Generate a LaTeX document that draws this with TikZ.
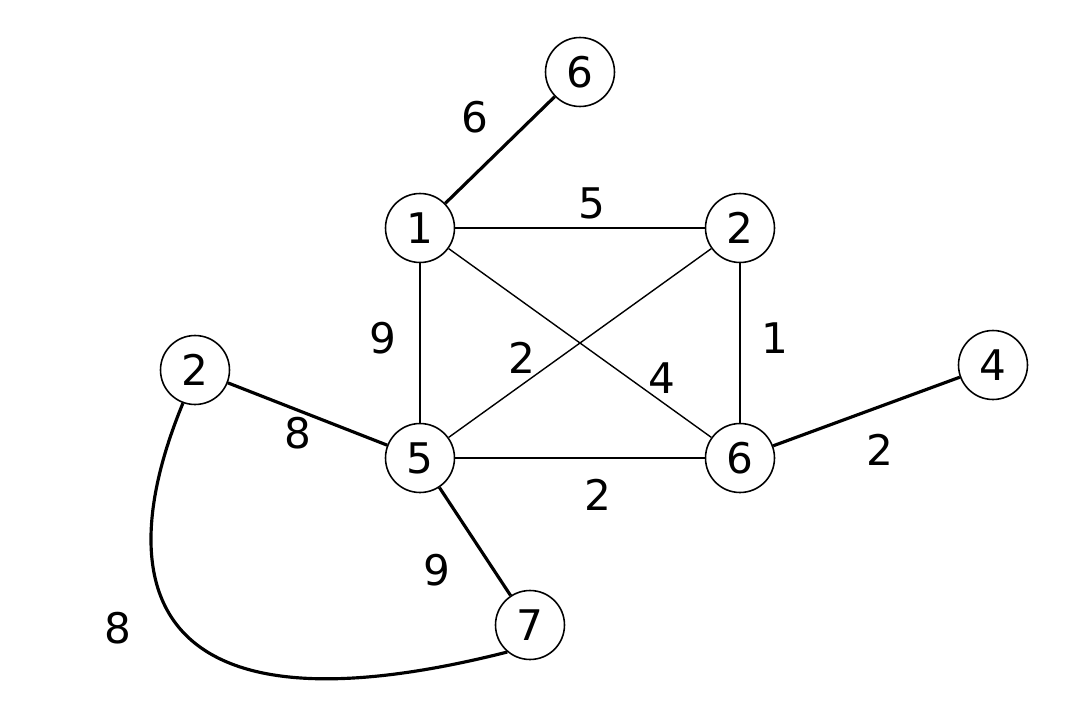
\documentclass[tikz,border=0pt]{standalone}
\usepackage{fontspec}
\setmainfont{DejaVu Sans}
\begin{document}
\begin{tikzpicture}[x=0.02cm,y=-0.02cm,
  vtx/.style={draw,circle,line width=0.9pt,minimum size=1.38cm,inner sep=0pt,font=\fontsize{24}{28}\selectfont},
  thk/.style={line width=1.8pt},
  thn/.style={line width=0.8pt},
  lbl/.style={font=\fontsize{24}{28}\selectfont}]
\useasboundingbox (0,0) rectangle (1080,727);
\node[vtx] (A) at (580,72) {6};
\node[vtx] (B) at (420,228) {1};
\node[vtx] (C) at (740,228) {2};
\node[vtx] (D) at (195,370) {2};
\node[vtx] (E) at (420,458) {5};
\node[vtx] (F) at (740,458) {6};
\node[vtx] (G) at (993,365) {4};
\node[vtx] (H) at (530,625) {7};
\draw[thk] (A) -- (B);
\draw[thk] (D) -- (E);
\draw[thk] (E) -- (H);
\draw[thk] (F) -- (G);
\draw[thk] (D.250) .. controls (110,580) and (140,745) .. (H.230);
\draw[thn] (B) -- (C);
\draw[thn] (B) -- (E);
\draw[thn] (B) -- (F);
\draw[thn] (C) -- (E);
\draw[thn] (C) -- (F);
\draw[thn] (E) -- (F);
\node[lbl] (l1) at (475,117) {6};
\node[lbl] (l2) at (592,203) {5};
\node[lbl] (l3) at (383,338) {9};
\node[lbl] (l4) at (522,358) {2};
\node[lbl] (l5) at (662,378) {4};
\node[lbl] (l6) at (775,338) {1};
\node[lbl] (l7) at (298,433) {8};
\node[lbl] (l8) at (598,495) {2};
\node[lbl] (l9) at (880,450) {2};
\node[lbl] (l10) at (437,570) {9};
\node[lbl] (l11) at (118,628) {8};
\end{tikzpicture}
\end{document}
